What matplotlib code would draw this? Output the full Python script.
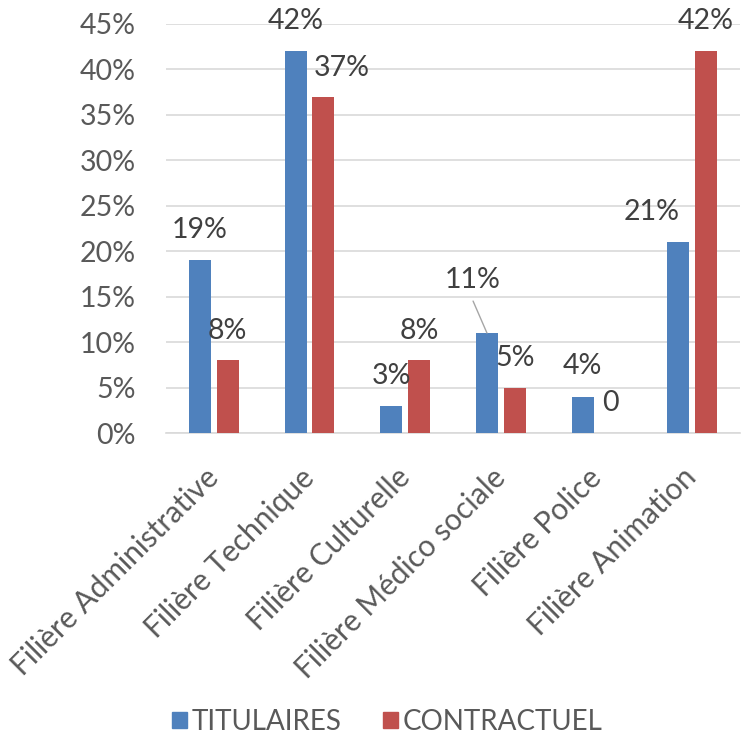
import matplotlib
matplotlib.use("Agg")
import matplotlib.pyplot as plt
import matplotlib.transforms as mtransforms
import numpy as np

categories = ["Filière Administrative", "Filière Technique", "Filière Culturelle",
              "Filière Médico sociale", "Filière Police", "Filière Animation"]
titulaires = [19, 42, 3, 11, 4, 21]
contractuel = [8, 37, 8, 5, 0, 42]
tit_labels = ["19%", "42%", "3%", "11%", "4%", "21%"]
con_labels = ["8%", "37%", "8%", "5%", "0", "42%"]
yticks = [0, 5, 10, 15, 20, 25, 30, 35, 40, 45]

# label offsets in points (dx, dy) from bar top centre
tit_off = [(0, 21.6), (0, 22), (0, 21.6), (-10, 38), (0, 22), (-19, 21.6)]
con_off = [(0, 21), (13, 21), (0, 21), (0, 21.6), (0, 21.6), (0, 22)]

plt.rcParams['font.family'] = ['Lato', 'DejaVu Sans']
blue = "#4F81BD"
red = "#C0504D"

fig = plt.figure(figsize=(7.45, 7.35), dpi=100)
ax = fig.add_axes([166/745, 1-433/735, (740-166)/745, (433-24)/735])

x = np.arange(len(categories))
w = 0.23
gap = 0.06
xb = x - (w+gap)/2
xr = x + (w+gap)/2
ax.bar(xb, titulaires, w, color=blue, zorder=3)
ax.bar(xr, contractuel, w, color=red, zorder=3)

ax.set_xlim(-0.5, len(categories)-0.5)
ax.set_ylim(0, 45)
ax.set_yticks(yticks)
ax.set_yticklabels([f"{v}%" for v in yticks], fontsize=20.5, color="#595959")
ax.yaxis.grid(True, color="#D9D9D9", linewidth=1.2, zorder=0)
ax.tick_params(axis='y', length=0, pad=22)
ax.tick_params(axis='x', length=0)
for s in ["top", "right", "left"]:
    ax.spines[s].set_visible(False)
ax.spines["bottom"].set_color("#D9D9D9")
ax.spines["bottom"].set_linewidth(1.2)

ax.set_xticks(x)
ax.set_xticklabels([])
off = mtransforms.ScaledTranslation(0/100, -40/100, fig.dpi_scale_trans)
for i, c in enumerate(categories):
    ax.text(x[i], 0, c, transform=ax.get_xaxis_transform() + off,
            rotation=45, ha='right', va='center', rotation_mode='anchor',
            fontsize=21.5, color="#595959")

for i in range(len(categories)):
    dx, dy = tit_off[i]
    ax.annotate(tit_labels[i], (xb[i], titulaires[i]), xytext=(dx, dy),
                textcoords='offset points', ha='center', va='center',
                fontsize=20.5, color="#404040", zorder=5)
    dx, dy = con_off[i]
    ax.annotate(con_labels[i], (xr[i], contractuel[i]), xytext=(dx, dy),
                textcoords='offset points', ha='center', va='center',
                fontsize=20.5, color="#404040", zorder=5)

# leader line for Médico sociale titulaires
i = 3
ax.annotate("", xy=(xb[i], titulaires[i]), xytext=(tit_off[i][0], tit_off[i][1]-15),
            textcoords='offset points',
            arrowprops=dict(arrowstyle='-', color="#A6A6A6", lw=1, shrinkA=0, shrinkB=0))

handles = [plt.Rectangle((0, 0), 1, 1, color=blue), plt.Rectangle((0, 0), 1, 1, color=red)]
fig.legend(handles, ["TITULAIRES", "CONTRACTUEL"], loc='center', bbox_to_anchor=(0.52, 1-722/735),
           ncol=2, frameon=False, fontsize=20, handlelength=0.54, handleheight=0.54,
           columnspacing=1.47, handletextpad=0.18, labelcolor="#595959",
           borderpad=0, borderaxespad=0)

fig.savefig("out.png", dpi=100)
